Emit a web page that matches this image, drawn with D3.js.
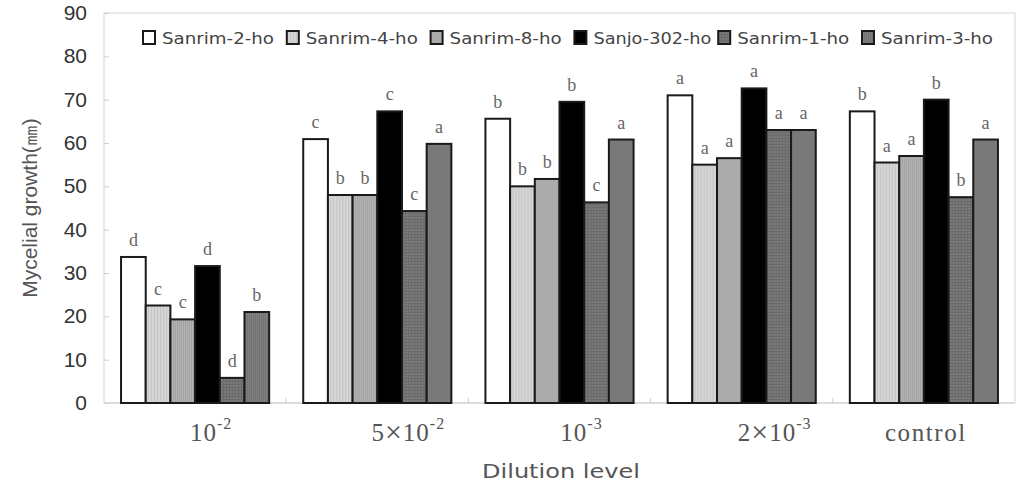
<!DOCTYPE html>
<html>
<head>
<meta charset="utf-8">
<script src="https://cdn.jsdelivr.net/npm/d3@7"></script>
<style>
  body { margin: 0; background: #fff; }
  svg { display: block; }
</style>
</head>
<body>
<div id="viz"></div>
<script>
// data
const dilutions = ["10^-2", "5x10^-2", "10^-3", "2x10^-3", "control"]
const strains = ["Sanrim-2-ho", "Sanrim-4-ho", "Sanrim-8-ho", "Sanjo-302-ho", "Sanrim-1-ho", "Sanrim-3-ho"]

// growth (mm), one array per strain, in dilution order
const sanrim2 = [33.7, 60.9, 65.6, 71.0, 67.3]
const sanrim4 = [22.5, 48.0, 50.0, 55.0, 55.5]
const sanrim8 = [19.3, 48.0, 51.7, 56.5, 57.0]
const sanjo302 = [31.6, 67.3, 69.5, 72.6, 70.0]
const sanrim1 = [5.8, 44.3, 46.3, 63.0, 47.5]
const sanrim3 = [21.0, 59.8, 60.8, 63.0, 60.8]

const letters2 = ["d", "c", "b", "a", "b"]
const letters4 = ["c", "b", "b", "a", "a"]
const letters8 = ["c", "b", "b", "a", "a"]
const letters302 = ["d", "c", "b", "a", "b"]
const letters1 = ["d", "c", "c", "a", "b"]
const letters3 = ["b", "a", "a", "a", "a"]

const yTicks = [0, 10, 20, 30, 40, 50, 60, 70, 80, 90]

const values = [sanrim2, sanrim4, sanrim8, sanjo302, sanrim1, sanrim3]
const letters = [letters2, letters4, letters8, letters302, letters1, letters3]

const width = 1019
const height = 483
const margin = { top: 13, right: 4, bottom: 80, left: 104 }

const svg = d3.select("#viz").append("svg")
  .attr("width", width)
  .attr("height", height)

const defs = svg.append("defs")

// textures for the grey bars
function stripes(id, base, line, step) {
  const p = defs.append("pattern")
    .attr("id", id)
    .attr("patternUnits", "userSpaceOnUse")
    .attr("width", step).attr("height", step)
  p.append("rect").attr("width", step).attr("height", step).attr("fill", base)
  p.append("rect").attr("width", 1).attr("height", step).attr("fill", line)
  return "url(#" + id + ")"
}
function checks(id, base, line) {
  const p = defs.append("pattern")
    .attr("id", id)
    .attr("patternUnits", "userSpaceOnUse")
    .attr("width", 3).attr("height", 3)
  p.append("rect").attr("width", 3).attr("height", 3).attr("fill", base)
  p.append("rect").attr("width", 1).attr("height", 3).attr("fill", line)
  p.append("rect").attr("width", 3).attr("height", 1).attr("fill", line)
  return "url(#" + id + ")"
}

const fills = [
  "#ffffff",
  stripes("p4", "#d6d6d6", "#c4c4c4", 3),
  stripes("p8", "#b4b4b4", "#a2a2a2", 2),
  "#000000",
  checks("p1", "#7a7a7a", "#6a6a6a"),
  stripes("p3", "#7e7e7e", "#747474", 2)
]

const x0 = d3.scaleBand()
  .domain(dilutions)
  .range([margin.left, width - margin.right])
  .paddingInner(0.187)
  .paddingOuter(0.0935)

const x1 = d3.scaleBand()
  .domain(strains)
  .range([0, x0.bandwidth()])
  .padding(0)

const y = d3.scaleLinear()
  .domain([0, 90])
  .range([height - margin.bottom, margin.top])

// plot frame
svg.append("rect")
  .attr("x", margin.left)
  .attr("y", margin.top)
  .attr("width", width - margin.right - margin.left)
  .attr("height", y(0) - margin.top)
  .attr("fill", "none")
  .attr("stroke", "#d4d4d4")
  .attr("stroke-width", 1)

// y axis
const yAxis = svg.append("g")
  .attr("transform", "translate(" + margin.left + ",0)")
  .call(d3.axisRight(y).tickValues(yTicks).tickSize(5).tickFormat(""))
yAxis.select(".domain").remove()
yAxis.selectAll("line").attr("stroke", "#cfcfcf")

svg.append("g").selectAll("text")
  .data(yTicks)
  .enter()
  .append("text")
  .attr("x", 87)
  .attr("y", d => y(d) + 7)
  .attr("text-anchor", "end")
  .attr("font-family", "Liberation Sans, Arial, sans-serif")
  .attr("font-size", 21)
  .attr("fill", "#333")
  .text(d => d)

// x axis line + boundary ticks
const step = x0.step()
const boundaries = dilutions.slice(1).map(d => x0(d) - x0.paddingInner() * step / 2)
svg.append("line")
  .attr("x1", margin.left).attr("x2", width - margin.right)
  .attr("y1", y(0)).attr("y2", y(0))
  .attr("stroke", "#cfcfcf")
svg.append("g").selectAll("line")
  .data(boundaries)
  .enter()
  .append("line")
  .attr("x1", d => d).attr("x2", d => d)
  .attr("y1", y(0)).attr("y2", y(0) - 5)
  .attr("stroke", "#cfcfcf")

// bars
const groups = svg.append("g").selectAll("g")
  .data(dilutions)
  .enter()
  .append("g")
  .attr("transform", d => "translate(" + x0(d) + ",0)")

groups.each(function(dil, di) {
  const g = d3.select(this)
  g.selectAll("rect")
    .data(strains)
    .enter()
    .append("rect")
    .attr("x", s => x1(s))
    .attr("y", (s, si) => y(values[si][di]))
    .attr("width", x1.bandwidth())
    .attr("height", (s, si) => y(0) - y(values[si][di]))
    .attr("fill", (s, si) => fills[si])
    .attr("stroke", "#1a1a1a")
    .attr("stroke-width", 2)

  g.selectAll("text")
    .data(strains)
    .enter()
    .append("text")
    .attr("x", s => x1(s) + x1.bandwidth() / 2)
    .attr("y", (s, si) => y(values[si][di]) - 11)
    .attr("text-anchor", "middle")
    .attr("font-family", "Liberation Serif, Times New Roman, serif")
    .attr("font-size", 18)
    .attr("fill", "#666")
    .text((s, si) => letters[si][di])
})

// x category labels (serif, with superscript exponents)
const labelShift = [16, 31, 22, 33, 2]
const xLabels = svg.append("g").selectAll("text")
  .data(dilutions)
  .enter()
  .append("text")
  .attr("x", (d, i) => x0(d) + x0.bandwidth() / 2 + labelShift[i])
  .attr("y", 441)
  .attr("text-anchor", "middle")
  .attr("font-family", "Liberation Serif, Times New Roman, serif")
  .attr("font-size", 25)
  .attr("letter-spacing", 1)
  .attr("fill", "#555")

xLabels.each(function(d) {
  const t = d3.select(this)
  if (d.indexOf("^") < 0) { t.attr("letter-spacing", 1.6).text(d); return }
  const parts = d.split("^")
  const base = parts[0].split("x")
  if (base.length > 1) {
    t.append("tspan").text(base[0])
    t.append("tspan").attr("font-size", 30).attr("dy", 1).text("\u00d7")
    t.append("tspan").attr("dy", -1).text(base[1])
  } else {
    t.append("tspan").text(base[0])
  }
  t.append("tspan")
    .attr("dy", -12)
    .attr("font-size", 16)
    .text(parts[1])
})

// axis titles
svg.append("text")
  .attr("x", 561)
  .attr("y", 478)
  .attr("text-anchor", "middle")
  .attr("font-family", "DejaVu Sans, sans-serif")
  .attr("font-size", 20)
  .attr("fill", "#555")
  .attr("textLength", 158)
  .attr("lengthAdjust", "spacingAndGlyphs")
  .text("Dilution level")

svg.append("text")
  .attr("transform", "translate(37,208) rotate(-90)")
  .attr("text-anchor", "middle")
  .attr("font-family", "Liberation Sans, Arial, sans-serif")
  .attr("font-size", 21)
  .attr("fill", "#555")
  .text("Mycelial growth(\u339c)")

// legend
const legend = svg.append("g").selectAll("g")
  .data(strains)
  .enter()
  .append("g")
  .attr("transform", (d, i) => "translate(" + (143 + i * 143.8) + ",31)")

legend.append("rect")
  .attr("width", 12).attr("height", 13)
  .attr("fill", (d, i) => fills[i])
  .attr("stroke", "#1a1a1a")
  .attr("stroke-width", 2)

legend.append("text")
  .attr("x", 19)
  .attr("y", 13)
  .attr("font-family", "DejaVu Sans, sans-serif")
  .attr("font-size", 16)
  .attr("fill", "#444")
  .attr("textLength", d => d === "Sanjo-302-ho" ? 118 : 112)
  .attr("lengthAdjust", "spacingAndGlyphs")
  .text(d => d)
</script>
</body>
</html>
